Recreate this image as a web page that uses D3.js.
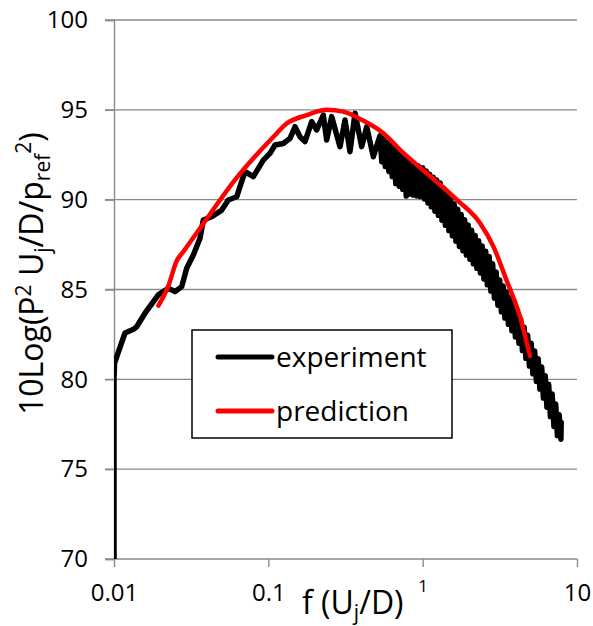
<!DOCTYPE html>
<html>
<head>
<meta charset="utf-8">
<script src="https://cdn.jsdelivr.net/npm/d3@7"></script>
<style>
  html, body { margin: 0; padding: 0; background: #fff; }
  svg { display: block; font-family: "Open Sans", sans-serif; }
</style>
</head>
<body>
<svg id="chart" width="593" height="626"></svg>
<script>
// ---- data ----
const yTicks = [70, 75, 80, 85, 90, 95, 100];
const xTicks = [0.01, 0.1, 1, 10];
const xTickLabels = ["0.01", "0.1", "1", "10"];
const seriesNames = ["experiment", "prediction"];

// experiment: low-frequency part (read point by point)
const expF = [0.01, 0.01, 0.01008, 0.01178, 0.01348, 0.01403, 0.01588, 0.01937, 0.02248, 0.02485, 0.02746,
  0.02958, 0.03265, 0.03608, 0.0379, 0.04296, 0.04988, 0.05503, 0.06237, 0.06552, 0.07062, 0.07991,
  0.09278, 0.1025, 0.1105, 0.125, 0.1382, 0.1489, 0.1604, 0.1728, 0.191, 0.2058, 0.2271, 0.2388,
  0.2574, 0.2913, 0.314, 0.3382, 0.3645, 0.4027, 0.4341, 0.4789,
  // dense oscillating band 0.53 - 1
  0.5292, 0.5432, 0.5576, 0.5723, 0.5875, 0.6030, 0.6190, 0.6354, 0.6522, 0.6695, 0.6872, 0.7054,
  0.7240, 0.7432, 0.7629, 0.7830, 0.8037, 0.8250, 0.8468, 0.8692, 0.8920, 0.9156, 0.9398, 0.9647,
  // dense oscillating band 1 - 8
  1.000, 1.026, 1.054, 1.082, 1.110, 1.139, 1.170, 1.201, 1.232, 1.265, 1.298, 1.333, 1.368, 1.404,
  1.441, 1.479, 1.518, 1.559, 1.600, 1.642, 1.686, 1.730, 1.776, 1.823, 1.871, 1.921, 1.972, 2.024,
  2.077, 2.132, 2.188, 2.246, 2.306, 2.367, 2.429, 2.494, 2.560, 2.627, 2.697, 2.768, 2.841, 2.917,
  2.994, 3.073, 3.154, 3.238, 3.323, 3.411, 3.501, 3.594, 3.689, 3.787, 3.887, 3.990, 4.095, 4.204,
  4.315, 4.429, 4.546, 4.667, 4.790, 4.917, 5.047, 5.180, 5.317, 5.458, 5.602, 5.750, 5.902, 6.059,
  6.219, 6.383, 6.552, 6.726, 6.903, 7.086, 7.273, 7.466, 7.663, 7.866, 7.90];
const expV = [70.0, 80.0, 80.9, 82.58, 82.8, 82.93, 83.68, 84.7, 85.07, 84.88, 85.16,
  86.18, 86.92, 87.85, 88.87, 89.05, 89.42, 89.98, 90.16, 90.72, 91.56, 91.28,
  92.2, 92.58, 93.04, 93.13, 93.41, 94.06, 93.5, 93.23, 94.34, 93.88, 94.71, 93.32,
  94.62, 92.95, 94.43, 92.67, 94.81, 92.95, 94.06, 92.39,
  93.56, 92.11, 93.39, 91.84, 93.21, 91.57, 93.03, 91.29, 92.84, 90.9, 92.64, 90.75,
  92.46, 90.58, 92.30, 90.2, 92.14, 90.31, 92.02, 90.26, 91.95, 90.21, 91.87, 90.17,
  91.78, 90.04, 91.60, 89.82, 91.41, 89.60, 91.25, 89.36, 91.09, 89.13, 90.93, 88.86, 90.64, 88.57,
  90.35, 88.28, 90.05, 87.99, 89.76, 87.69, 89.47, 87.40, 89.17, 87.16, 88.88, 86.92, 88.59, 86.69,
  88.30, 86.43, 88.01, 86.18, 87.71, 85.92, 87.42, 85.59, 87.13, 85.26, 86.84, 84.91, 86.43, 84.52,
  85.98, 84.13, 85.53, 83.76, 85.19, 83.41, 84.86, 83.06, 84.52, 82.71, 84.13, 82.36, 83.75, 82.01,
  83.35, 81.60, 82.90, 81.17, 82.45, 80.74, 82.01, 80.31, 81.58, 79.89, 81.15, 79.46, 80.69, 78.96,
  80.20, 78.45, 79.72, 77.93, 79.19, 77.38, 78.63, 76.87, 78.03, 76.67, 77.6];

const predF = [0.0194, 0.0225, 0.0255, 0.0281, 0.0389, 0.0608, 0.108, 0.132, 0.177, 0.239, 0.306,
  0.412, 0.556, 0.749, 1.12, 1.66, 2.35, 2.87, 3.50, 4.27, 4.96];
const predV = [84.1, 85.2, 86.6, 87.1, 88.8, 91.1, 93.5, 94.25, 94.7, 95.0, 94.9,
  94.4, 93.7, 92.6, 91.3, 90.0, 88.7, 87.4, 85.5, 83.5, 81.3];

// ---- layout ----
const L = 114, R = 577, T = 20, B = 559;
const svg = d3.select("#chart");
const x = d3.scaleLog().domain([0.01, 10]).range([L, R]);
const y = d3.scaleLinear().domain([70, 100]).range([B, T]);
const gridColor = "#8a8a8a";
const FONT = "Open Sans";

// horizontal gridlines
svg.append("g").selectAll("line").data(yTicks).join("line")
  .attr("x1", L - 9).attr("x2", R)
  .attr("y1", d => y(d)).attr("y2", d => y(d))
  .attr("stroke", gridColor).attr("stroke-width", 1.4);

// y axis
const yAxis = svg.append("g").attr("transform", `translate(${L},0)`)
  .call(d3.axisLeft(y).tickValues(yTicks).tickSize(9).tickPadding(17).tickFormat(d3.format("d")));
yAxis.select(".domain").attr("stroke", gridColor).attr("stroke-width", 1.4);
yAxis.selectAll(".tick line").attr("stroke", gridColor).attr("stroke-width", 1.4);
yAxis.selectAll(".tick text").attr("font-size", 24).attr("font-family", FONT).attr("fill", "#000");

// x axis
const xAxis = svg.append("g").attr("transform", `translate(0,${B})`)
  .call(d3.axisBottom(x).tickValues(xTicks).tickSize(8).tickPadding(17)
    .tickFormat((d, i) => xTickLabels[i]));
xAxis.select(".domain").remove();
xAxis.selectAll(".tick line").attr("stroke", gridColor).attr("stroke-width", 1.4);
xAxis.selectAll(".tick text").attr("font-size", 24).attr("font-family", FONT).attr("fill", "#000");
xAxis.selectAll(".tick text").filter(d => d === 1)
  .attr("font-size", 17).attr("y", 21).attr("dy", "0.71em");

// clip
svg.append("clipPath").attr("id", "plotclip").append("rect")
  .attr("x", L).attr("y", T - 10).attr("width", R - L + 20).attr("height", B - T + 10);

const expLine = d3.line().x(d => x(d[0])).y(d => y(d[1]));
const predLine = d3.line().x(d => x(d[0])).y(d => y(d[1])).curve(d3.curveMonotoneX);
const expData = expF.map((f, i) => [f, expV[i]]);
const predData = predF.map((f, i) => [f, predV[i]]);

const plot = svg.append("g").attr("clip-path", "url(#plotclip)");
plot.append("path").datum(expData).attr("d", expLine)
  .attr("fill", "none").attr("stroke", "#000").attr("stroke-width", 5.5)
  .attr("stroke-linejoin", "round").attr("stroke-linecap", "round");
plot.append("path").datum(predData).attr("d", predLine)
  .attr("fill", "none").attr("stroke", "#ff0000").attr("stroke-width", 4.5)
  .attr("stroke-linejoin", "round").attr("stroke-linecap", "round");

// legend
const lg = svg.append("g");
lg.append("rect").attr("x", 192).attr("y", 330).attr("width", 260).attr("height", 108)
  .attr("fill", "#fff").attr("stroke", "#000").attr("stroke-width", 1.5);
const legColors = ["#000", "#ff0000"];
seriesNames.forEach((name, i) => {
  const cy = 357 + i * 54;
  lg.append("line").attr("x1", 218).attr("x2", 272).attr("y1", cy).attr("y2", cy)
    .attr("stroke", legColors[i]).attr("stroke-width", 5).attr("stroke-linecap", "round");
  lg.append("text").attr("x", 276).attr("y", cy).attr("dy", "0.35em")
    .attr("font-family", FONT).attr("font-size", 28).attr("fill", "#000").text(name);
});

// x title
const xt = svg.append("text").attr("x", 302).attr("y", 614)
  .attr("font-family", FONT).attr("font-size", 32).attr("fill", "#000");
xt.append("tspan").text("f (U");
xt.append("tspan").attr("font-size", 21).attr("dy", 6).text("j");
xt.append("tspan").attr("dy", -6).text("/D)");

// y title
const yt = svg.append("text").attr("transform", "translate(43,415) rotate(-90)")
  .attr("x", 0).attr("y", 0).attr("font-family", FONT).attr("font-size", 32).attr("fill", "#000");
yt.append("tspan").text("10Log(P");
yt.append("tspan").attr("font-size", 21).attr("dy", -12).text("2");
yt.append("tspan").attr("dy", 12).text(" U");
yt.append("tspan").attr("font-size", 21).attr("dy", 7).text("j");
yt.append("tspan").attr("dy", -7).text("/D/p");
yt.append("tspan").attr("font-size", 21).attr("dy", 7).text("ref");
yt.append("tspan").attr("font-size", 21).attr("dy", -19).text("2");
yt.append("tspan").attr("dy", 12).text(")");
</script>
</body>
</html>
